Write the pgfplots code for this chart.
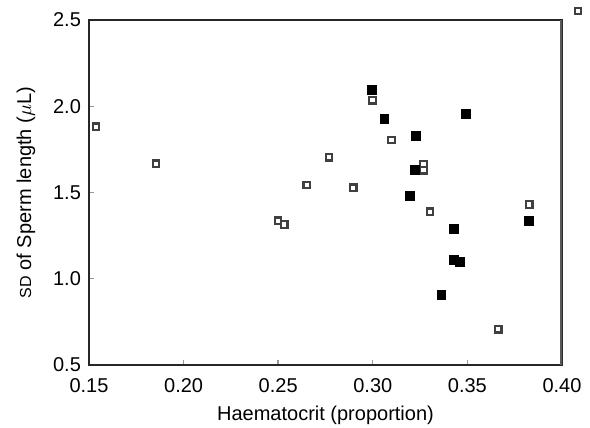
\documentclass[border=0pt]{standalone}
\usepackage{pgfplots}
\pgfplotsset{compat=1.18}
\usepackage{fontspec}
\setmainfont{Liberation Sans}

\begin{document}
\begin{tikzpicture}
\begin{axis}[
    scale only axis,
    width=236.5pt, height=172.5pt,
    xmin=0.15, xmax=0.40,
    ymin=0.5, ymax=2.5,
    xtick={0.15,0.20,...,0.40},
    ytick={0.5,1.0,...,2.5},
    font=\fontsize{10}{12}\selectfont,
    /pgf/number format/assume math mode=true,
    xticklabel style={yshift=-3pt, /pgf/number format/.cd, fixed, fixed zerofill, precision=2},
    yticklabel style={xshift=-0.5pt, /pgf/number format/.cd, fixed, fixed zerofill, precision=1},
    tick align=inside,
    major tick length=2.5pt,
    tick style={black!40, line width=0.7pt},
    xtick pos=bottom, ytick pos=left,
    axis line style={black!85, line width=0.8pt},
    xlabel={Haematocrit (proportion)},
    ylabel={{\fontsize{8}{9}\selectfont SD} of Sperm length ($\mu$L)},
    xlabel style={yshift=0pt},
    ylabel style={yshift=2pt},
    legend style={draw=none, fill=none, at={(1.036,1.026)}, anchor=center,
        inner sep=0pt, nodes={inner sep=0pt}, font=\tiny},
    legend cell align=left,
]
% open squares
\addplot[only marks, mark=square, mark size=1.6pt,
    mark options={draw=black!75, line width=1.1pt}] coordinates {
(0.1536,1.882) (0.1855,1.667) (0.2498,1.337) (0.2532,1.315)
(0.2651,1.543) (0.2768,1.704) (0.2897,1.528) (0.2998,2.034)
(0.3099,1.804) (0.3268,1.665) (0.3268,1.629) (0.3302,1.389)
(0.3827,1.431) (0.3663,0.707)
};
\addlegendentry{}
% filled squares
\addplot[only marks, mark=square*, mark size=2.2pt,
    mark options={draw=black, fill=black, line width=0.5pt},
    forget plot] coordinates {
(0.2996,2.094) (0.3062,1.928) (0.3230,1.829) (0.3494,1.953)
(0.3224,1.630) (0.3196,1.478) (0.3429,1.290) (0.3827,1.337)
(0.3431,1.107) (0.3462,1.095) (0.3363,0.904)
};
\draw[black!65, line width=1.8pt] (rel axis cs:1,0) -- (rel axis cs:1,1);
\end{axis}
\pgfresetboundingbox
\path ([shift={(-44.5pt,-31.5pt)}]current axis.south west)
    rectangle ([shift={(14pt,10pt)}]current axis.north east);
\end{tikzpicture}
\end{document}
